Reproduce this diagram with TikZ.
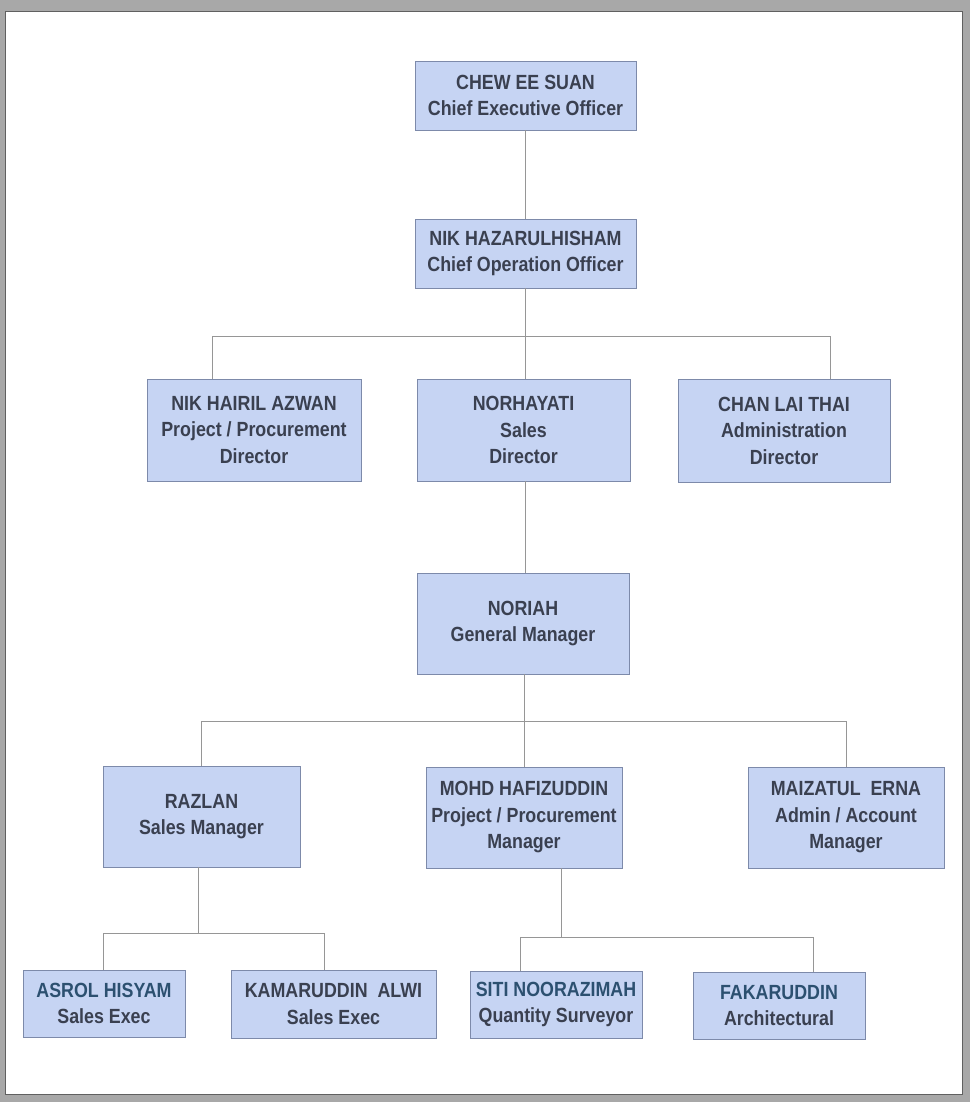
\documentclass[tikz,border=0pt]{standalone}
\usepackage{fontspec}
\setmainfont{Liberation Sans}[FakeStretch=0.87]
\definecolor{boxfill}{RGB}{198,212,243}
\definecolor{boxline}{RGB}{125,138,170}
\definecolor{txt}{RGB}{58,64,80}
\definecolor{txtb}{RGB}{44,80,112}
\definecolor{frame}{RGB}{168,168,168}
\definecolor{conn}{RGB}{150,150,150}
\begin{document}
\begin{tikzpicture}[x=1pt,y=-1pt,
  orgbox/.style={draw=boxline, line width=0.9pt, fill=boxfill, text=txt,
    align=center, inner sep=0pt, font=\fontsize{20.5}{26.5}\selectfont\bfseries},
  conline/.style={draw=conn, line width=1pt}]
\useasboundingbox (0,0) rectangle (970,1102);
\fill[frame] (0,0) rectangle (970,1102);
\draw[fill=white, draw=gray!75!black, line width=1pt] (5,12) rectangle (962,1094);

% nodes
\node[orgbox, minimum width=221, minimum height=69] (ceo) at (525.5,95.5) {CHEW EE SUAN\\Chief Executive Officer};
\node[orgbox, minimum width=221, minimum height=69] (coo) at (525.5,253.5) {NIK HAZARULHISHAM\\Chief Operation Officer};
\node[orgbox, minimum width=214, minimum height=102] (nik) at (254,430) {NIK HAIRIL AZWAN\\Project / Procurement\\Director};
\node[orgbox, minimum width=213, minimum height=102] (nor) at (523.5,430) {NORHAYATI\\Sales\\Director};
\node[orgbox, minimum width=212, minimum height=103] (chan) at (784,430.5) {CHAN LAI THAI\\Administration\\Director};
\node[orgbox, minimum width=212, minimum height=101] (noriah) at (523,623.5) {NORIAH\\General Manager};
\node[orgbox, minimum width=197, minimum height=101] (razlan) at (201.5,816.5) {RAZLAN\\Sales Manager};
\node[orgbox, minimum width=196, minimum height=101] (mohd) at (524,817.5) {MOHD HAFIZUDDIN\\Project / Procurement\\Manager};
\node[orgbox, minimum width=196, minimum height=101] (maiz) at (846,817.5) {MAIZATUL\ \ ERNA\\Admin / Account\\Manager};
\node[orgbox, minimum width=162, minimum height=67] (asrol) at (104,1003.5) {\textcolor{txtb}{ASROL HISYAM}\\Sales Exec};
\node[orgbox, minimum width=205, minimum height=68] (kam) at (333.5,1004) {KAMARUDDIN\ \ ALWI\\Sales Exec};
\node[orgbox, minimum width=172, minimum height=67] (siti) at (556,1004.5) {\textcolor{txtb}{SITI NOORAZIMAH}\\Quantity Surveyor};
\node[orgbox, minimum width=172, minimum height=67] (faka) at (779,1005.5) {\textcolor{txtb}{FAKARUDDIN}\\Architectural};

% bus coordinates
\coordinate (b1l) at (212,336);
\coordinate (b1m) at (525.5,336);
\coordinate (b1r) at (830,336);
\coordinate (b2l) at (201,721);
\coordinate (b2m) at (524,721);
\coordinate (b2r) at (846,721);
\coordinate (b3l) at (103,933);
\coordinate (b3m) at (198,933);
\coordinate (b3r) at (324,933);
\coordinate (b4l) at (520,937);
\coordinate (b4m) at (561,937);
\coordinate (b4r) at (813,937);

% connectors
\draw[conline] (ceo.south) -- (coo.north);
\draw[conline] (coo.south) -- (b1m);
\draw[conline] (b1l) -- (b1r);
\draw[conline] (b1l) -- (b1l |- nik.north);
\draw[conline] (b1m) -- (b1m |- nor.north);
\draw[conline] (b1r) -- (b1r |- chan.north);
\draw[conline] (nor.south -| b1m) -- (noriah.north -| b1m);
\draw[conline] (noriah.south -| b2m) -- (b2m);
\draw[conline] (b2l) -- (b2r);
\draw[conline] (b2l) -- (b2l |- razlan.north);
\draw[conline] (b2m) -- (b2m |- mohd.north);
\draw[conline] (b2r) -- (b2r |- maiz.north);
\draw[conline] (razlan.south -| b3m) -- (b3m);
\draw[conline] (b3l) -- (b3r);
\draw[conline] (b3l) -- (b3l |- asrol.north);
\draw[conline] (b3r) -- (b3r |- kam.north);
\draw[conline] (mohd.south -| b4m) -- (b4m);
\draw[conline] (b4l) -- (b4r);
\draw[conline] (b4l) -- (b4l |- siti.north);
\draw[conline] (b4r) -- (b4r |- faka.north);
\end{tikzpicture}
\end{document}
